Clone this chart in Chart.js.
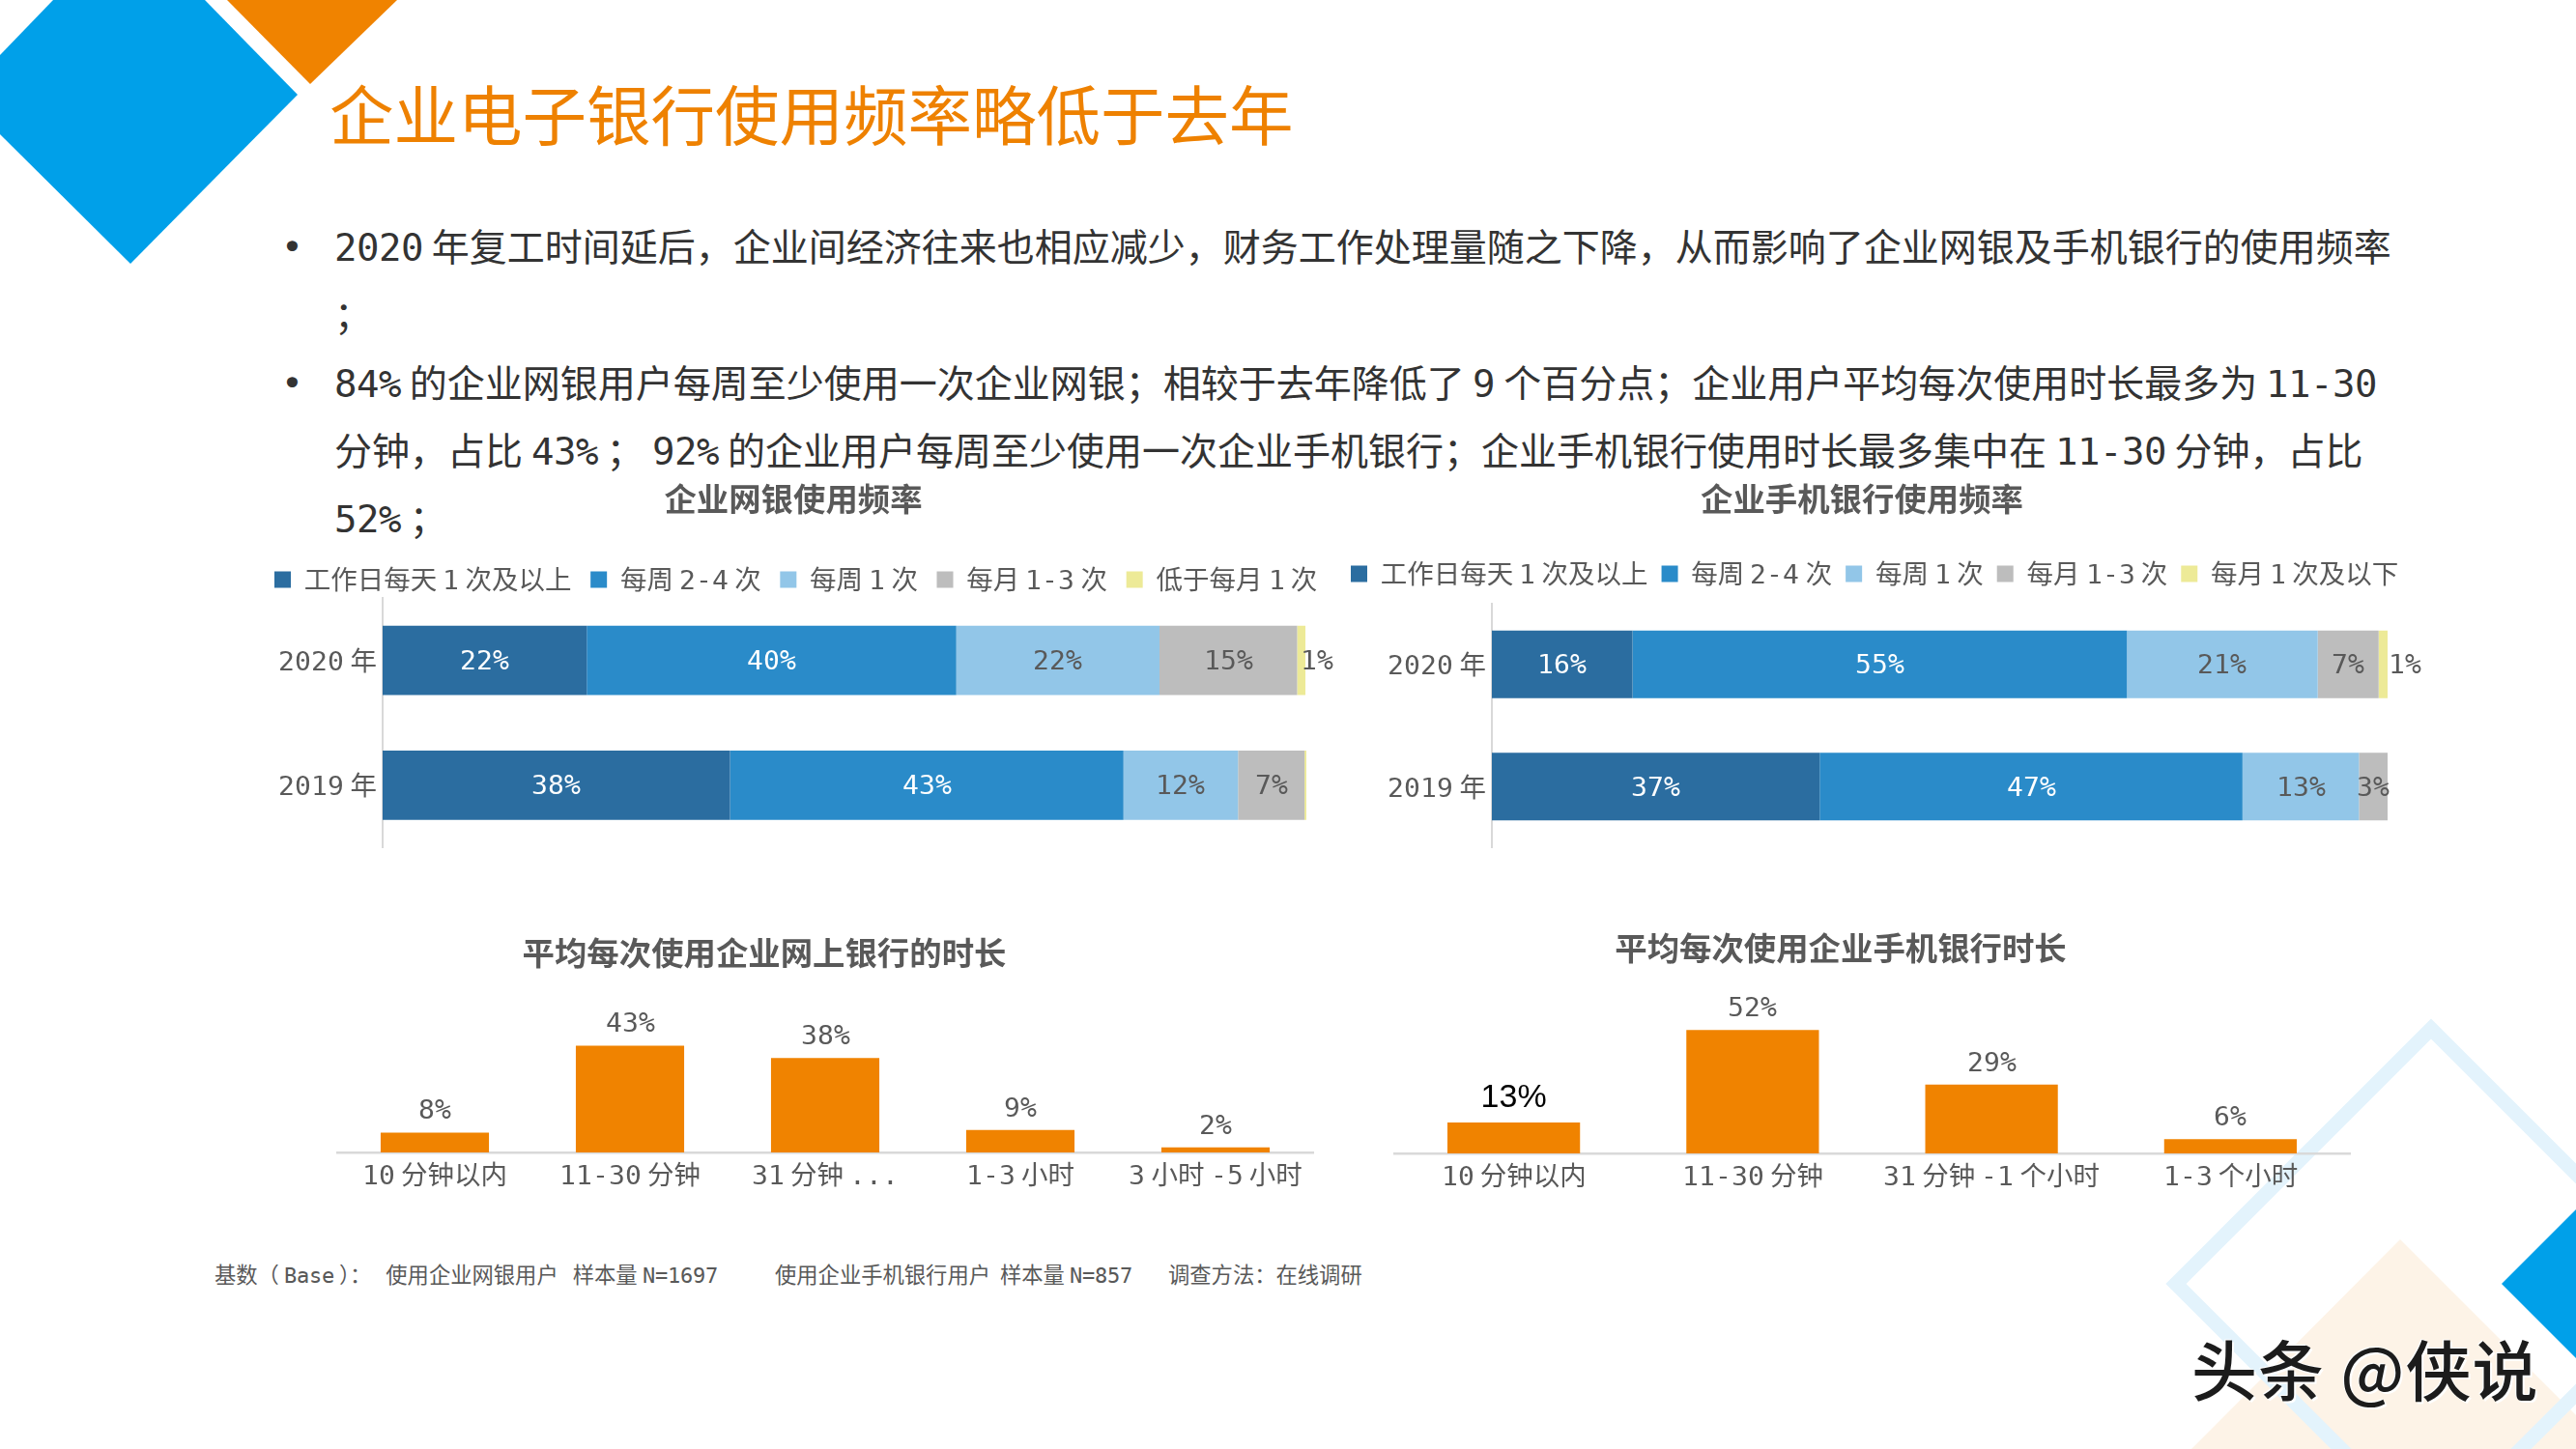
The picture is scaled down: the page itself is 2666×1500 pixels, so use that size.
<!DOCTYPE html>
<html lang="zh"><head><meta charset="utf-8"><title>企业电子银行使用频率略低于去年</title>
<script src="https://cdn.jsdelivr.net/npm/chart.js@4/dist/chart.umd.min.js"></script>
<style>
@font-face{font-family:'MonoLatin';src:local('DejaVu Sans Mono');unicode-range:U+21-7E}
html,body{margin:0;padding:0;background:#fff}
#page{position:relative;width:2666px;height:1500px;overflow:hidden;background:#fff;font-family:'MonoLatin','Noto Sans CJK SC',monospace}
#deco{position:absolute;left:0;top:0}
canvas{position:absolute}
.t{position:absolute;white-space:pre;line-height:1}
#head{left:341px;top:80px;font:400 66.5px/1.1 'Noto Sans CJK SC',sans-serif;color:#EE8100}
.b{left:346px;font-size:39px;color:#333}
.dot{left:291px;font-size:38px;color:#333;font-family:'DejaVu Sans Mono'}
.f{top:1307px;font-size:22.3px;color:#595959}
#mark{left:2268px;top:1375px;font:500 68px/1.2 'Noto Sans CJK SC',sans-serif;color:#1c1c1c;letter-spacing:1px;text-shadow:2px 2px 0 #fff,-1px -1px 0 #fff}
</style></head><body>
<div id="page">
<svg id="deco" width="2666" height="1500" viewBox="0 0 2666 1500">
<polygon points="55,0 212,0 308,98 135,273 0,139 0,57" fill="#00A0E9"/>
<polygon points="235,0 411,0 321,87" fill="#F08300"/>
<polygon points="2484,1283 2268,1500 2666,1500 2666,1465" fill="#FDF3E7"/>
<polygon points="2516,1065 2780,1329 2516,1593 2252,1329" fill="none" stroke="#E3F3FC" stroke-width="15"/>
<polygon points="2666,1252 2589,1329 2666,1406" fill="#00A0E9"/>
</svg>
<div class="t" id="head">企业电子银行使用频率略低于去年</div>
<div class="t dot" style="top:237px">•</div>
<div class="t b" style="top:234px">2020 年复工时间延后，企业间经济往来也相应减少，财务工作处理量随之下降，从而影响了企业网银及手机银行的使用频率</div>
<div class="t b" style="top:304px">；</div>
<div class="t dot" style="top:378px">•</div>
<div class="t b" style="top:375px">84% 的企业网银用户每周至少使用一次企业网银；相较于去年降低了 9 个百分点；企业用户平均每次使用时长最多为 11-30</div>
<div class="t b" style="top:445px">分钟，占比 43% ； 92% 的企业用户每周至少使用一次企业手机银行；企业手机银行使用时长最多集中在 11-30 分钟，占比</div>
<div class="t b" style="top:515px">52% ；</div>
<div class="t f" style="left:222px">基数（ Base ）：   使用企业网银用户   样本量 N=1697</div>
<div class="t f" style="left:802px">使用企业手机银行用户  样本量 N=857</div>
<div class="t f" style="left:1209px">调查方法：在线调研</div>
<div class="t" id="mark">头条 @侠说</div>
</div>
<script>
// ---- data ----
const yearLabels = ['2020 年', '2019 年'];
const netSeriesNames = ['工作日每天 1 次及以上', '每周 2-4 次', '每周 1 次', '每月 1-3 次', '低于每月 1 次'];
const netDaily   = [22.1, 37.6];
const netWeekly  = [40.0, 42.6];
const netOnce    = [22.0, 12.4];
const netMonthly = [14.9, 7.2];
const netRare    = [0.9, 0.2];
const mobSeriesNames = ['工作日每天 1 次及以上', '每周 2-4 次', '每周 1 次', '每月 1-3 次', '每月 1 次及以下'];
const mobDaily   = [15.7, 36.6];
const mobWeekly  = [55.2, 47.2];
const mobOnce    = [21.3, 13.0];
const mobMonthly = [6.8, 3.2];
const mobRare    = [1.0, 0.0];
const netDurationLabels = ['10 分钟以内', '11-30 分钟', '31 分钟 ...', '1-3 小时', '3 小时 -5 小时'];
const netDurationValues = [8, 43, 38, 9, 2];
const mobDurationLabels = ['10 分钟以内', '11-30 分钟', '31 分钟 -1 个小时', '1-3 个小时'];
const mobDurationValues = [13, 52, 29, 6];

// ---- style ----
const FAMILY = "'MonoLatin','Noto Sans CJK SC',monospace";
const TEXT = '#595959', AXIS = '#D9D9D9', ORANGE = '#F08300';
const SERIES = ['#2B6DA0', '#2A8BC9', '#92C6E8', '#BDBDBD', '#EDEA97'];
const LABEL_COLORS = ['#FFFFFF', '#FFFFFF', '#595959', '#595959', '#595959'];
const TICK_FONT = {family: FAMILY, size: 27.5};

const page = document.getElementById('page');
function addCanvas(b) {
  const c = document.createElement('canvas');
  c.width = b.right - b.left; c.height = b.bottom - b.top;
  c.style.left = b.left + 'px'; c.style.top = b.top + 'px';
  c.style.width = c.width + 'px'; c.style.height = c.height + 'px';
  page.appendChild(c);
  return c;
}

// moves the title and legend blocks to where the reference has them
const placeBlocks = {
  id: 'placeBlocks',
  afterLayout(chart, args, o) {
    const t = chart.titleBlock;
    if (t && o.titleX !== undefined) {
      t.left = o.titleX - o.canvasLeft - 900; t.right = o.titleX - o.canvasLeft + 900;
      t.top = o.titleY - o.canvasTop - 33.4 * 1.2 / 2;
    }
    const l = chart.legend;
    if (l && o.legendX !== undefined) {
      const p = chart.options.plugins.legend.labels.padding;
      l.left = o.legendX - o.canvasLeft - p;
      l.right = l.left + 1400;
      l.top = o.legendY - o.canvasTop - p - TICK_FONT.size / 2;
    }
  }
};

// segment percentages inside the stacked bars
const stackLabels = {
  id: 'stackLabels',
  afterDatasetsDraw(chart, args, o) {
    const ctx = chart.ctx;
    ctx.save();
    ctx.font = `27.5px ${FAMILY}`;
    ctx.textBaseline = 'middle';
    chart.data.datasets.forEach((ds, di) => {
      chart.getDatasetMeta(di).data.forEach((el, i) => {
        const v = ds.data[i];
        if (v < 0.5) return;
        const txt = Math.round(v) + '%';
        const y = el.y - 1;
        ctx.fillStyle = LABEL_COLORS[di];
        if (v < 2) { ctx.textAlign = 'left'; ctx.fillText(txt, el.x + o.smallGap, y); }
        else { ctx.textAlign = 'center'; ctx.fillText(txt, el.getCenterPoint().x, y); }
      });
    });
    ctx.restore();
  }
};

// percentages above the column bars
const columnLabels = {
  id: 'columnLabels',
  afterDatasetsDraw(chart, args, o) {
    const ctx = chart.ctx;
    ctx.save();
    ctx.textAlign = 'center';
    ctx.textBaseline = 'middle';
    chart.getDatasetMeta(0).data.forEach((el, i) => {
      const odd = o.oddIndex === i;
      ctx.font = odd ? "34px 'Liberation Sans'" : `27.5px ${FAMILY}`;
      ctx.fillStyle = odd ? '#000000' : TEXT;
      ctx.fillText(chart.data.datasets[0].data[i] + '%', el.x, el.y - (odd ? 25 : 24.5));
    });
    ctx.restore();
  }
};

// nudges the layout padding until the plot area sits on the wanted rectangle
function pinPlot(chart, pad, box, plot) {
  for (let n = 0; n < 3; n++) {
    pad.top += (plot.top - box.top) - chart.chartArea.top;
    pad.bottom += chart.chartArea.bottom - (plot.bottom - box.top);
    chart.update();
  }
}

function stackedChart(box, plot, title, titleX, names, cols, legendX, legendY, legendGap, smallGap) {
  const pad = {top: 0, left: 0, right: box.right - plot.right, bottom: box.bottom - plot.bottom};
  const chart = new Chart(addCanvas(box), {
    type: 'bar',
    data: {
      labels: yearLabels,
      datasets: names.map((n, i) => ({label: n, data: cols[i], backgroundColor: SERIES[i], borderWidth: 0,
        categoryPercentage: 1, barPercentage: 0.555}))
    },
    plugins: [placeBlocks, stackLabels],
    options: {
      indexAxis: 'y', responsive: false, animation: false, devicePixelRatio: 1,
      layout: {padding: pad, autoPadding: false},
      scales: {
        x: {display: false, stacked: true, min: 0, max: 100},
        y: {stacked: true, grid: {display: false, drawTicks: false},
            border: {display: true, color: AXIS, width: 2},
            ticks: {color: TEXT, font: TICK_FONT, padding: 6},
            afterFit(s) { s.width = plot.left - box.left; }}
      },
      plugins: {
        title: {display: true, text: title, color: TEXT, padding: 0,
                font: {family: "'Noto Sans CJK SC'", size: 33.4, weight: 'bold'}},
        legend: {display: true, position: 'top', align: 'start',
                 labels: {color: TEXT, font: TICK_FONT, boxWidth: 17, boxHeight: 17, padding: legendGap}},
        tooltip: {enabled: false},
        placeBlocks: {canvasLeft: box.left, canvasTop: box.top, titleX, titleY: 516, legendX, legendY},
        stackLabels: {smallGap}
      }
    }
  });
  pinPlot(chart, pad, box, plot);
  return chart;
}

function columnChart(box, plot, title, titleX, titleY, labels, values, yMax, oddIndex) {
  const pad = {top: 0, left: plot.left - box.left, right: box.right - plot.right, bottom: 0};
  const chart = new Chart(addCanvas(box), {
    type: 'bar',
    data: {labels, datasets: [{data: values, backgroundColor: ORANGE, borderWidth: 0,
      categoryPercentage: 1, barPercentage: 0.555}]},
    plugins: [placeBlocks, columnLabels],
    options: {
      responsive: false, animation: false, devicePixelRatio: 1,
      layout: {padding: pad, autoPadding: false},
      scales: {
        y: {display: false, min: 0, max: yMax},
        x: {grid: {display: false, drawTicks: false},
            border: {display: true, color: AXIS, width: 2.5},
            ticks: {color: TEXT, font: TICK_FONT, padding: 6.5, maxRotation: 0, autoSkip: false},
            afterFit(s) { s.height = box.bottom - plot.bottom; }}
      },
      plugins: {
        title: {display: true, text: title, color: TEXT, padding: 0,
                font: {family: "'Noto Sans CJK SC'", size: 33.4, weight: 'bold'}},
        legend: {display: false},
        tooltip: {enabled: false},
        placeBlocks: {canvasLeft: box.left, canvasTop: box.top, titleX, titleY},
        columnLabels: {oddIndex}
      }
    }
  });
  pad.top = plot.top - box.top - chart.chartArea.top;
  chart.update();
  return chart;
}

function drawAll() {
  stackedChart({left: 200, top: 480, right: 1400, bottom: 900}, {left: 396, top: 619, right: 1352, bottom: 881},
    '企业网银使用频率', 821, netSeriesNames, [netDaily, netWeekly, netOnce, netMonthly, netRare], 284, 600, 19.6, -5);
  stackedChart({left: 1300, top: 480, right: 2530, bottom: 900}, {left: 1544, top: 624.5, right: 2471, bottom: 878},
    '企业手机银行使用频率', 1927, mobSeriesNames, [mobDaily, mobWeekly, mobOnce, mobMonthly, mobRare], 1398, 594, 14, 1);
  columnChart({left: 300, top: 950, right: 1400, bottom: 1250}, {left: 349, top: 1064.5, right: 1359, bottom: 1193},
    '平均每次使用企业网上银行的时长', 791, 986, netDurationLabels, netDurationValues, 50);
  columnChart({left: 1420, top: 950, right: 2460, bottom: 1250}, {left: 1443, top: 1031, right: 2432, bottom: 1194},
    '平均每次使用企业手机银行时长', 1905, 981, mobDurationLabels, mobDurationValues, 66.4, 0);
}
document.fonts.load("27px 'MonoLatin'", '0123%').then(drawAll, drawAll);
</script>
</body></html>
